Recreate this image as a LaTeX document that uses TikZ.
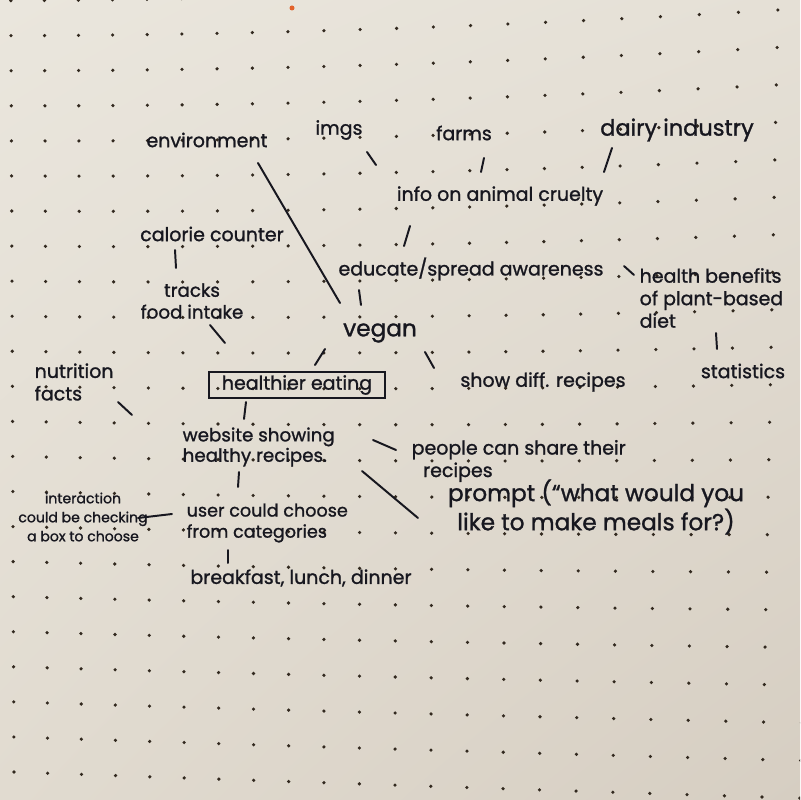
\documentclass[tikz,border=0pt]{standalone}
\usepackage{fontspec}
\setmainfont{Poppins}[FakeBold=1.2]
\usetikzlibrary{shadings}
\definecolor{ink}{HTML}{17171F}
\definecolor{paperhi}{HTML}{EAE6DD}
\definecolor{papertr}{HTML}{E5E0D6}
\definecolor{paperbl}{HTML}{E1DBD0}
\definecolor{paperlo}{HTML}{D6CEC2}
\definecolor{dotc}{HTML}{32291F}
\definecolor{speck}{HTML}{E2622A}
\begin{document}
\begin{tikzpicture}[ x = 0.025cm, y = -0.025cm,
		idea/.style = { text = ink, inner sep = 1pt, font = \fontsize{13.5}{16}\selectfont },
		bigidea/.style = { idea, font = \fontsize{16.5}{19}\selectfont },
		smallidea/.style = { idea, font = \fontsize{10}{13.5}\selectfont },
		link/.style = { draw = ink, line width = 1.4pt, line cap = round } ]
		% бумага в точку
		\clip ( 0, 0 ) rectangle ( 800, 800 );
		\shade [ upper left = paperhi, upper right = papertr, lower left = paperbl, lower right = paperlo ] ( 0, 0 ) rectangle ( 800, 800 );
		\foreach \i in { 0, ..., 22 } {
			\foreach \j in { 0, ..., 23 } {
				\pgfmathsetmacro{\tj}{ ( \j - 1 ) / 21 }
				\pgfmathsetmacro{\xt}{ 11 + 33.45 * \i + 0.146 * \i * \i }
				\pgfmathsetmacro{\yt}{ 35.7 - 0.06 * \i - 0.0554 * \i * \i }
				\pgfmathsetmacro{\xb}{ 14 + 33.55 * \i + 0.0986 * \i * \i }
				\pgfmathsetmacro{\yb}{ 772 + 1.19 * \i }
				\fill [ dotc ] ( { \xt + \tj * ( \xb - \xt ) }, { \yt + \tj * ( \yb - \yt ) } ) circle [ radius = 1.8 ];
			}
		}
		\fill [ speck ] ( 292, 8 ) circle [ radius = 2.5 ];

		% верхний ряд
		\node [ idea ] (env) at ( 207, 140 ) {environment};
		\node [ idea ] (imgs) at ( 339, 130 ) {imgs};
		\node [ idea ] (farms) at ( 464, 133 ) {farms};
		\node [ idea, font = \fontsize{16}{19}\selectfont ] (dairy) at ( 677, 130 ) {dairy industry};
		\node [ idea ] (cruelty) at ( 500, 196 ) {info on animal cruelty};

		% вокруг vegan
		\node [ idea ] (calorie) at ( 212, 234 ) {calorie counter};
		\node [ idea ] (educate) at ( 471, 269 ) {educate/spread awareness};
		\node [ idea, align = left, anchor = west ] (health) at ( 638, 298 ) {health benefits\\of plant-based\\diet};
		\node [ idea ] (stats) at ( 743, 371 ) {statistics};
		\node [ idea, font = \fontsize{13}{15.5}\selectfont, align = center ] (tracks) at ( 192, 301 ) {tracks\\food intake};
		\node [ bigidea ] (vegan) at ( 380, 333 ) {vegan};

		% центр
		\node [ idea, draw = ink, line width = 1.5pt, minimum width = 4.42cm, minimum height = 0.65cm ] (healthier) at ( 297, 385 ) {healthier eating};
		\node [ idea ] (show) at ( 543, 382 ) {show diff. recipes};
		\node [ idea, align = left, anchor = west ] (nutrition) at ( 33, 382 ) {nutrition\\facts};
		\coordinate (nutend) at ( 132, 415 );

		% сайт
		\node [ idea, font = \fontsize{13}{14.5}\selectfont, align = left, anchor = west ] (website) at ( 181, 447 ) {website showing\\healthy recipes.};
		\node [ idea, align = left, anchor = west ] (people) at ( 410, 461 ) {people can share their\\\hspace{0.6em}recipes};
		\node [ bigidea, align = center ] (prompt) at ( 596, 507 ) {prompt (“what would you\\like to make meals for?)};
		\node [ idea, font = \fontsize{12.5}{15}\selectfont, align = left, anchor = west ] (user) at ( 185, 523 ) {user could choose\\from categories};
		\node [ smallidea, align = center ] (interaction) at ( 83, 517 ) {interaction\\could be checking\\a box to choose};
		\node [ idea ] (meals) at ( 301, 578 ) {breakfast, lunch, dinner};

		% связи
		\draw [ link ] ([shift={( 51, 23 )}]env.center) -- ([shift={( -40, -30 )}]vegan.center);
		\draw [ link ] ([shift={( 28, 22 )}]imgs.center) -- ([shift={( -124, -31 )}]cruelty.center);
		\draw [ link ] ([shift={( 20, 25 )}]farms.center) -- ([shift={( -19, -24 )}]cruelty.center);
		\draw [ link ] ([shift={( -65, 18 )}]dairy.center) -- ([shift={( 104, -24 )}]cruelty.center);
		\draw [ link ] ([shift={( -90, 30 )}]cruelty.center) -- ([shift={( -67, -23 )}]educate.center);
		\draw [ link ] ([shift={( -37, 16 )}]calorie.center) -- ([shift={( -16, -33 )}]tracks.center);
		\draw [ link ] ([shift={( -112, 21 )}]educate.center) -- ([shift={( -19, -28 )}]vegan.center);
		\draw [ link ] ([shift={( 153, -3 )}]educate.center) -- ([shift={( -4, -23 )}]health.west);
		\draw [ link ] ([shift={( 78, 35 )}]health.west) -- ([shift={( -26, -22 )}]stats.center);
		\draw [ link ] ([shift={( 18, 24 )}]tracks.center) -- ([shift={( -72, -42 )}]healthier.center);
		\draw [ link ] ([shift={( -55, 16 )}]vegan.center) -- ([shift={( 18, -20 )}]healthier.center);
		\draw [ link ] ([shift={( 45, 19 )}]vegan.center) -- ([shift={( -109, -14 )}]show.center);
		\draw [ link ] ([shift={( 85, 20 )}]nutrition.west) -- (nutend);
		\draw [ link ] ([shift={( -51, 17 )}]healthier.center) -- ([shift={( 63, -28 )}]website.west);
		\draw [ link ] ([shift={( 192, -7 )}]website.west) -- ([shift={( -14, -11 )}]people.west);
		\draw [ link ] ([shift={( 181, 24 )}]website.west) -- ([shift={( -178, 11 )}]prompt.center);
		\draw [ link ] ([shift={( 58, 25 )}]website.west) -- ([shift={( 53, -36 )}]user.west);
		\draw [ link ] ([shift={( 55, 1 )}]interaction.center) -- ([shift={( -13, -9 )}]user.west);
		\draw [ link ] ([shift={( 43, 27 )}]user.west) -- ([shift={( -73, -15 )}]meals.center);
	\end{tikzpicture}
\end{document}
